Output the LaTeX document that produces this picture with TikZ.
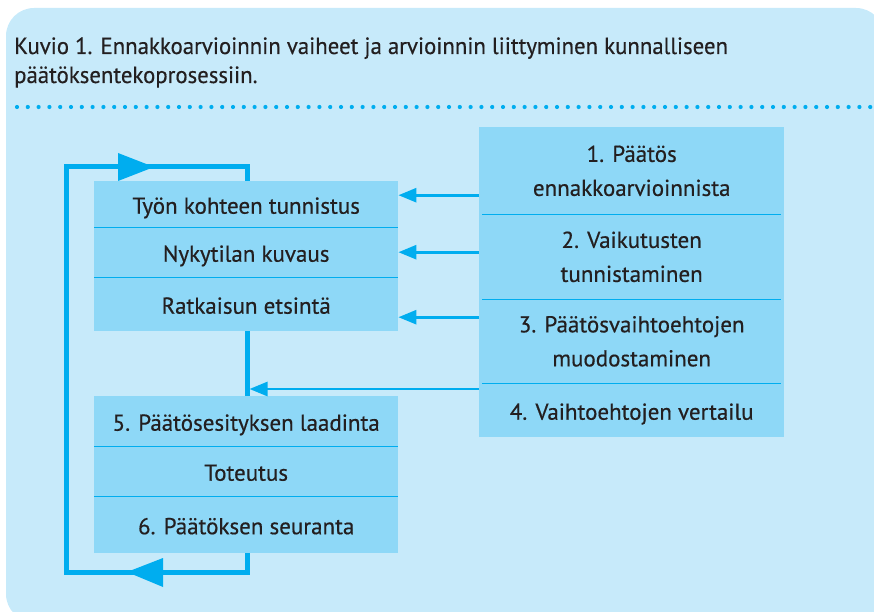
\documentclass[tikz,border=0pt]{standalone}
\usepackage{fontspec}
\setmainfont[FakeBold=0.5]{PT Sans}
\newfontfamily\titlefont[FakeStretch=0.97,FakeBold=0.4]{PT Sans}
\usetikzlibrary{arrows.meta}
\definecolor{panel}{HTML}{C7EAFA}
\definecolor{boxfill}{HTML}{8ED8F7}
\definecolor{cyanline}{HTML}{00ADEF}
\definecolor{ink}{HTML}{231F20}
\tikzset{
  stagebox/.style={fill=boxfill, draw=none, inner sep=0pt, anchor=north west,
    text=ink, align=center, font=\fontsize{23}{34}\selectfont, text depth=0pt},
  oneline/.style={text height=19pt},
  divider/.style={draw=cyanline, line width=1.5pt},
  arr/.style={draw=cyanline, line width=2.7pt,
    -{Triangle[length=18pt, width=14pt]}},
  loopline/.style={draw=cyanline, line width=5pt},
  loophead/.style={fill=cyanline, draw=none},
}
\begin{document}
\begin{tikzpicture}[x=1pt, y=-1pt]
\useasboundingbox (0,0) rectangle (874,612);
\begin{scope}
\clip (0,0) rectangle (874,612);
\fill[panel, rounded corners=28pt] (6,8) rectangle (884,622);
\end{scope}
% title
\node[anchor=base west, inner sep=0pt, text=ink, font=\titlefont\fontsize{23.5}{29}\selectfont] (title1) at (14,54) {Kuvio 1. Ennakkoarvioinnin vaiheet ja arvioinnin liittyminen kunnalliseen};
\node[anchor=base west, inner sep=0pt, text=ink, font=\titlefont\fontsize{23.5}{29}\selectfont] (title2) at (14,83) {päätöksentekoprosessiin.};
% dotted separator
\coordinate (dotL) at (17,107);
\coordinate (dotR) at (872,107);
\draw[cyanline, line width=4.2pt, line cap=round, dash pattern=on 0pt off 10.8pt] (dotL) -- (dotR);
% loop
\coordinate (lpTL) at (66,167);
\coordinate (lpTR) at (247,167);
\coordinate (lpBL) at (66,572);
\coordinate (lpBR) at (247,572);
\draw[loopline] (lpTL) -- (lpTR) -- (lpBR) -- (lpBL) -- cycle;
\fill[loophead] (118,153) -- (154,167) -- (118,181) -- cycle;
\fill[loophead] (127,572) -- (163,558) -- (163,587) -- cycle;
% left boxes
\node[stagebox, oneline, minimum width=304pt, minimum height=46pt] (n1) at (94,181) {Työn kohteen tunnistus};
\node[stagebox, oneline, minimum width=304pt, minimum height=50pt] (n2) at (94,227) {Nykytilan kuvaus};
\node[stagebox, oneline, minimum width=304pt, minimum height=54pt] (n3) at (94,277) {Ratkaisun etsintä};
\node[stagebox, oneline, minimum width=304pt, minimum height=50pt] (b1) at (94,396) {5. Päätösesityksen laadinta};
\node[stagebox, oneline, minimum width=304pt, minimum height=50pt] (b2) at (94,446) {Toteutus};
\node[stagebox, oneline, minimum width=304pt, minimum height=57pt] (b3) at (94,496) {6. Päätöksen seuranta};
% right boxes
\node[stagebox, minimum width=305pt, minimum height=87pt] (r1) at (479,127) {1. Päätös\\ennakkoarvioinnista};
\node[stagebox, minimum width=305pt, minimum height=85pt] (r2) at (479,214) {2. Vaikutusten\\tunnistaminen};
\node[stagebox, minimum width=305pt, minimum height=84pt] (r3) at (479,299) {3. Päätösvaihtoehtojen\\muodostaminen};
\node[stagebox, oneline, minimum width=305pt, minimum height=54pt] (r4) at (479,383) {4. Vaihtoehtojen vertailu};
% dividers
\draw[divider] (n1.south west) -- (n1.south east);
\draw[divider] (n2.south west) -- (n2.south east);
\draw[divider] (b1.south west) -- (b1.south east);
\draw[divider] (b2.south west) -- (b2.south east);
\draw[divider] ([xshift=3pt]r1.south west) -- ([xshift=-3pt]r1.south east);
\draw[divider] ([xshift=3pt]r2.south west) -- ([xshift=-3pt]r2.south east);
\draw[divider] ([xshift=3pt]r3.south west) -- ([xshift=-3pt]r3.south east);
% arrows
\coordinate (t1) at ([yshift=9pt]n1.east);
\coordinate (t3) at ([yshift=-13pt]n3.east);
\coordinate (vjoin) at (249.5,389);
\draw[arr] (r1.west |- t1) -- (t1);
\draw[arr] (r2.west |- n2.east) -- (n2.east);
\draw[arr] (r3.west |- t3) -- (t3);
\draw[arr] (r4.west |- vjoin) -- (vjoin);
\end{tikzpicture}
\end{document}
